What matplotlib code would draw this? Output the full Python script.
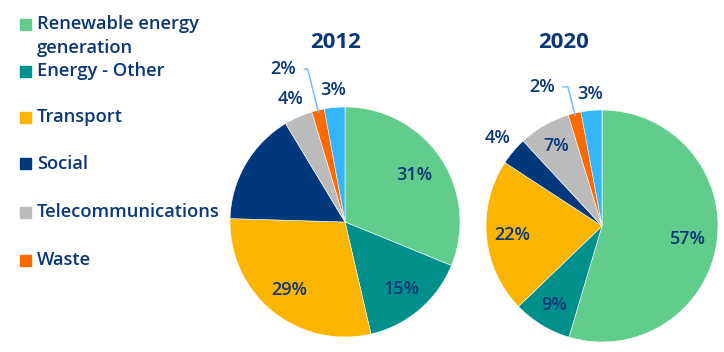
import matplotlib.pyplot as plt
import numpy as np

plt.rcParams['font.family'] = ['Open Sans', 'DejaVu Sans']

categories = ['Renewable energy\ngeneration', 'Energy - Other', 'Transport', 'Social',
              'Telecommunications', 'Waste', 'Other']
colors = ['#61CC8B', '#00908B', '#FBB400', '#00387C', '#BBBBBB', '#FF6A00', '#33B6FF']
TXT = '#0B3776'

years = ['2012', '2020']
shares_2012 = [31.4, 15.3, 29.3, 16.0, 4.0, 1.8, 2.9]
shares_2020 = [54.6, 8.2, 21.4, 3.9, 7.2, 1.8, 2.9]
labels_2012 = ['31%', '15%', '29%', '', '4%', '2%', '3%']
labels_2020 = ['57%', '9%', '22%', '4%', '7%', '2%', '3%']

W, H = 724, 352
fig = plt.figure(figsize=(W / 100, H / 100), dpi=100)

# label radius (fraction of pie radius) per wedge, and leader text spot for the 2% slice
pies = [
    dict(vals=shares_2012, labs=labels_2012, cx=345, cy=222, r=115,
         dist=[0.73, 0.76, 0.76, 0.7, 1.17, None, 1.15], lead=(-0.54, 1.33), angB=104,
         title_x=336),
    dict(vals=shares_2020, labs=labels_2020, cx=602, cy=226, r=116,
         dist=[0.75, 0.8, 0.78, 1.18, 0.8, None, 1.14], lead=(-0.52, 1.2), angB=104,
         title_x=564),
]

for yr, p in zip(years, pies):
    r = p['r']
    ax = fig.add_axes([(p['cx'] - r) / W, (H - p['cy'] - r) / H, 2 * r / W, 2 * r / H])
    wedges, _ = ax.pie(p['vals'], colors=colors, startangle=90, counterclock=False,
                       wedgeprops=dict(linewidth=0.4, edgecolor='white'))
    ax.set_xlim(-1, 1)
    ax.set_ylim(-1, 1)
    ax.set_aspect('equal')
    ax.axis('off')
    for w, lab, d in zip(wedges, p['labs'], p['dist']):
        if not lab:
            continue
        mid = np.deg2rad((w.theta1 + w.theta2) / 2)
        if d is None:
            ax.annotate(lab, xy=(np.cos(mid) * 0.98, np.sin(mid) * 0.98), xytext=p['lead'],
                        ha='center', va='center', fontsize=13, fontweight='semibold',
                        color=TXT, annotation_clip=False,
                        arrowprops=dict(arrowstyle='-', color='#7DB7FF', lw=1.1,
                                        relpos=(1, 0.5), shrinkA=4, shrinkB=0,
                                        connectionstyle='angle,angleA=0,angleB=%d,rad=0' % p['angB']))
        else:
            ax.text(np.cos(mid) * d, np.sin(mid) * d, lab, ha='center', va='center',
                    fontsize=13, fontweight='semibold', color=TXT, clip_on=False)
    fig.text(p['title_x'] / W, 1 - 42 / H, yr, ha='center', va='center', fontsize=16,
             fontweight='bold', color=TXT)

# legend (6 visible entries)
leg_y = [24, 71, 117, 164, 212, 260]
for cat, col, y in zip(categories[:6], colors[:6], leg_y):
    fig.patches.append(plt.Rectangle((20 / W, 1 - (y + 5.5) / H), 11 / W, 11 / H,
                                     transform=fig.transFigure, color=col))
    fig.text(37 / W, 1 - (y - 9) / H, cat, ha='left', va='top', fontsize=13.2,
             fontweight='semibold', color=TXT, linespacing=1.42)

fig.savefig('out.png', dpi=100)
